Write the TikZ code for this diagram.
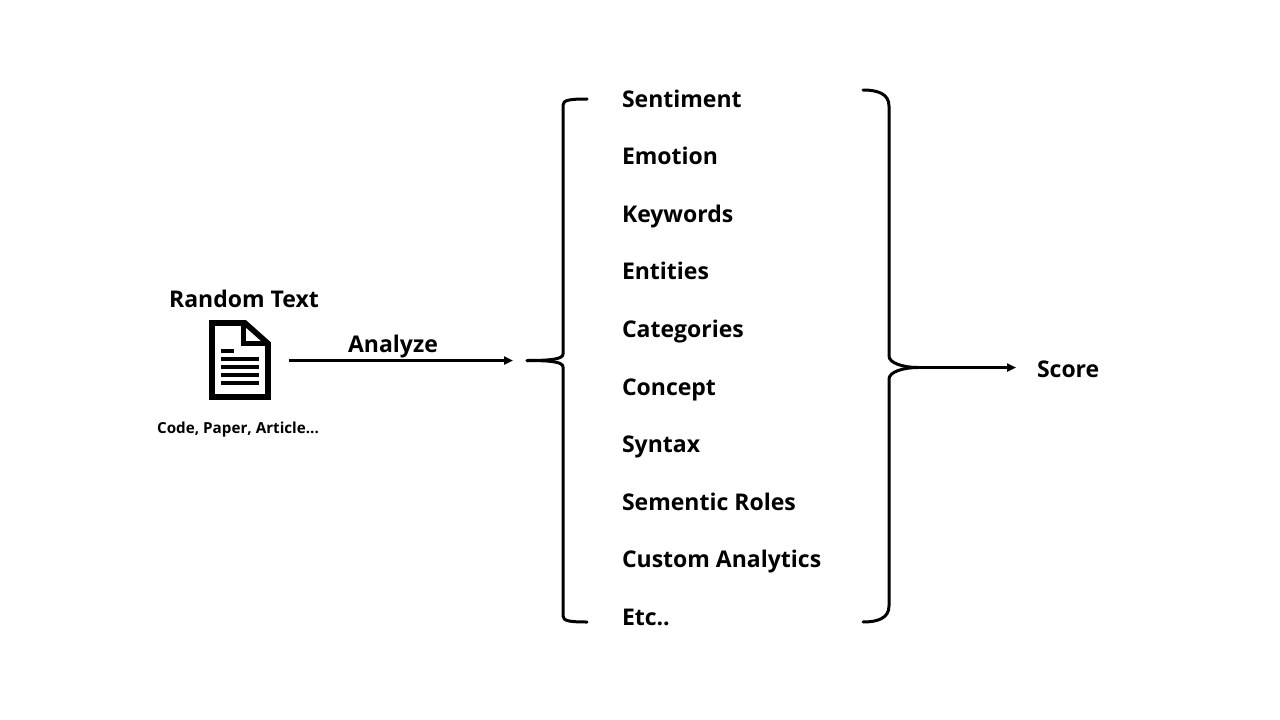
\documentclass[tikz,border=0pt]{standalone}
\usepackage{fontspec}
\setmainfont{Open Sans}
\newcommand{\bfnt}{\bfseries}
\usetikzlibrary{arrows.meta}
\tikzset{
  every node/.style={inner sep=0pt,outer sep=0pt,text=black},
  item/.style={anchor=base west,font=\fontsize{23}{28}\selectfont\bfnt},
  head/.style={anchor=base,font=\fontsize{23}{28}\selectfont\bfnt},
  small/.style={anchor=base,font=\fontsize{15.2}{20}\selectfont\bfnt},
  flow/.style={line width=2.8pt,-{Triangle[length=9pt,width=8pt]}},
  brace/.style={line width=3pt,line cap=round,line join=round},
  docline/.style={line width=3.6pt},
}
\begin{document}
\begin{tikzpicture}[x=1pt,y=-1pt]
\useasboundingbox[fill=white] (0,0) rectangle (1280,720);
\node[head] (rt) at (244,307) {Random Text};
\node[small] (code) at (238,433) {Code, Paper, Article...};
\node[head] (an) at (393,352) {Analyze};
\node[item] (i1) at (622,107) {Sentiment};
\node[item] (i2) at (622,164) {Emotion};
\node[item] (i3) at (622,222) {Keywords};
\node[item] (i4) at (622,279) {Entities};
\node[item] (i5) at (622,337) {Categories};
\node[item] (i6) at (622,395) {Concept};
\node[item] (i7) at (622,452) {Syntax};
\node[item] (i8) at (622,510) {Sementic Roles};
\node[item] (i9) at (622,567) {Custom Analytics};
\node[item] (i10) at (622,625) {Etc..};
\node[item] (score) at (1037,377) {Score};
% document icon
\draw[line width=5.6pt,miter limit=10] (212,323) -- (245,323) -- (268,343.5) -- (268,397) -- (212,397) -- cycle;
\draw[line width=5pt] (243.5,322) -- (243.5,343.5) -- (268,343.5);
\draw[docline] (221,350.8) -- (234,350.8);
\draw[docline] (221,358.8) -- (259,358.8);
\draw[docline] (221,367) -- (259,367);
\draw[docline] (221,375) -- (259,375);
\draw[docline] (221,383) -- (259,383);
% connectors
\coordinate (a1) at (289,360.5);
\coordinate (a2) at (513,360.5);
\coordinate (lt) at (527,360.5);
\coordinate (rt2) at (918,367.5);
\coordinate (a3) at (1016,367.5);
\draw[flow] (a1) -- (a2);
\draw[flow] (rt2) -- (a3);
% left brace
\draw[brace] (587,99) .. controls (570,99) and (563,100) .. (563,105)
  -- (563,354) .. controls (563,359) and (552,360.5) .. (lt);
\draw[brace] (lt) .. controls (552,360.5) and (563,362) .. (563,367)
  -- (563,616) .. controls (563,621) and (570,622) .. (587,622);
% right brace
\draw[brace] (863,90) .. controls (878,90) and (889,94) .. (889,106)
  -- (889,356) .. controls (889,363) and (903,367.5) .. (rt2);
\draw[brace] (rt2) .. controls (903,367.5) and (889,372) .. (889,379)
  -- (889,606) .. controls (889,618) and (878,622) .. (863,622);
\end{tikzpicture}
\end{document}
